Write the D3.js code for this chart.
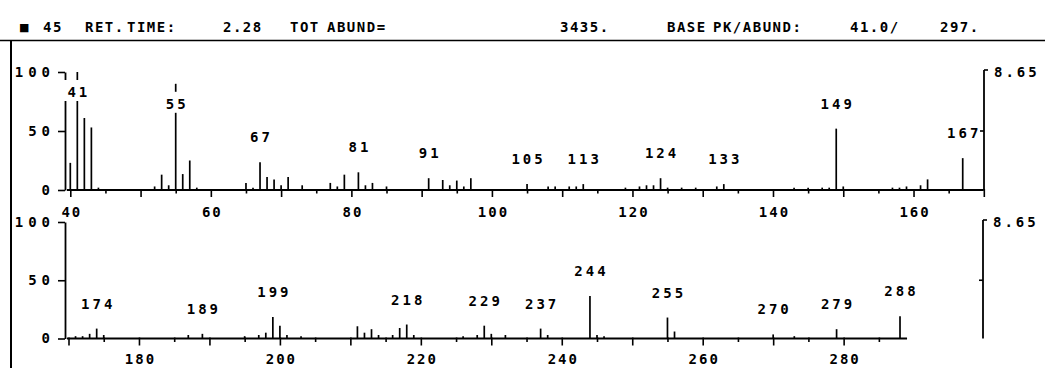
<!DOCTYPE html>
<html><head><meta charset="utf-8">
<script src="https://cdn.jsdelivr.net/npm/d3@7"></script>
<style>
html,body{margin:0;padding:0;background:#fff;}
svg{display:block;}
text{font-family:'DejaVu Sans Mono',monospace;font-size:14px;fill:#000;}
</style></head><body>
<svg id="chart" width="1045" height="368"></svg>
<script>
// ---------------- DATA ----------------
const headerTokens = ["45", "RET.", "TIME:", "2.28", "TOT", "ABUND=", "3435.", "BASE", "PK/ABUND:", "41.0/", "297."];
const scaleLabel = "8.65";
const yTickValues = [0, 50, 100];

// upper panel: m/z 40-170
const topMz    = [40, 41, 42, 43, 44, 52, 53, 54, 55, 56, 57, 58, 65, 66, 67, 68, 69, 70, 71, 73, 77, 78, 79, 81, 82, 83, 85,
                  91, 93, 94, 95, 96, 97, 105, 108, 109, 111, 112, 113, 119, 121, 122, 123, 124, 125, 127, 129, 132, 133,
                  143, 145, 147, 148, 149, 150, 157, 158, 159, 161, 162, 167];
const topAbund = [23, 100, 61, 53, 2, 3, 13, 4, 90, 13.5, 25, 2, 6, 2, 23.5, 11, 9, 4, 11, 4, 6, 3, 13, 15, 4, 6, 3,
                  10, 8.5, 4, 8, 3, 10, 5, 3, 3, 3, 3, 5, 2, 3, 4, 4, 10, 2, 2, 2, 3, 5,
                  2, 2, 2, 2, 52, 3, 2, 2, 3, 4, 9, 27];
const topLabeled = [41, 55, 67, 81, 91, 105, 113, 124, 133, 149, 167];
const topAxisLabels = [40, 60, 80, 100, 120, 140, 160];

// lower panel: m/z 170-290
const botMz    = [171, 172, 173, 174, 175, 187, 189, 195, 197, 198, 199, 200, 201, 203, 211, 212, 213, 214, 216, 217, 218, 219,
                  226, 228, 229, 230, 232, 237, 238, 244, 245, 246, 255, 256, 270, 273, 279, 288];
const botAbund = [2, 2, 4, 8.5, 3, 3, 4, 2, 3, 5, 18.5, 11, 3, 2, 10.5, 5, 8, 3, 3, 9, 12, 3,
                  2, 3, 11, 4, 3, 8.5, 3, 36.5, 3, 2, 18, 6, 3.5, 2, 8, 19];
const botLabeled = [174, 189, 199, 218, 229, 237, 244, 255, 270, 279, 288];
const botAxisLabels = [180, 200, 220, 240, 260, 280];

// ---------------- LAYOUT ----------------
const svg = d3.select("#chart");
const LS = 3;      // letter spacing for peak labels
const HLS = 1.5;   // letter spacing for header
const YLS = 5;     // letter spacing for y tick labels
svg.append("rect").attr("width", 1045).attr("height", 368).attr("fill", "#fff");

// frame
svg.append("line").attr("x1", 0).attr("x2", 1045).attr("y1", 40.5).attr("y2", 40.5)
  .attr("stroke", "#000").attr("stroke-width", 1.6);
svg.append("line").attr("x1", 11).attr("x2", 11).attr("y1", 40).attr("y2", 368)
  .attr("stroke", "#000").attr("stroke-width", 2);

// header
const headerX = [43, 85, 127, 223, 290, 327, 560, 667, 713, 850, 940];
svg.append("text").attr("x", 19).attr("y", 31).style("font-family", "DejaVu Sans").style("font-size", "11px").text("■");
svg.selectAll("text.hdr").data(headerTokens).join("text").attr("class", "hdr")
  .attr("x", (d, i) => headerX[i]).attr("y", 32)
  .style("letter-spacing", HLS + "px").style("font-weight", "bold").text(d => d);

function panel(cfg, mz, ab, labeled, axisLabels) {
  const x = d3.scaleLinear().domain(cfg.domain).range(cfg.xr);
  const y = d3.scaleLinear().domain([0, 100]).range([cfg.y0, cfg.y100]);
  const g = svg.append("g");

  // left axis
  const la = g.append("g").attr("transform", `translate(${cfg.leftX},0)`)
    .call(d3.axisLeft(y).tickValues(yTickValues).tickSize(7).tickSizeOuter(0).tickPadding(8));
  la.select(".domain").attr("stroke", "#000").attr("stroke-width", 1.8);
  la.selectAll(".tick line").attr("stroke", "#000").attr("stroke-width", 1.6);
  la.selectAll(".tick text").attr("dx", YLS).style("letter-spacing", YLS + "px")
    .style("font-weight", "bold").style("font-family", "DejaVu Sans Mono").style("font-size", "14px");

  // x axis ticks + labels
  const ticks = d3.range(cfg.domain[0], cfg.axisEnd + 1, 5);
  const xa = g.append("g").attr("transform", `translate(0,${cfg.y0})`)
    .call(d3.axisBottom(x).tickValues(ticks).tickSize(7).tickSizeOuter(0)
      .tickFormat(d => axisLabels.includes(d) ? d : ""));
  xa.select(".domain").remove();
  xa.selectAll(".tick line").attr("stroke", "#000").attr("stroke-width", 1.6)
    .attr("y1", -1).attr("y2", d => d % 10 === 0 ? 7 : 3.5);
  xa.selectAll(".tick text").attr("y", cfg.labelDy).attr("dy", 0).attr("dx", 1)
    .style("letter-spacing", "2px").style("font-weight", "bold")
    .style("font-family", "DejaVu Sans Mono").style("font-size", "14px");

  // baseline
  g.append("line").attr("x1", cfg.leftX + 2).attr("x2", x(cfg.axisEnd))
    .attr("y1", cfg.y0).attr("y2", cfg.y0).attr("stroke", "#000").attr("stroke-width", 2);

  // right scale axis
  const rx = cfg.rightX;
  g.append("line").attr("x1", rx).attr("x2", rx).attr("y1", y(100) - 2).attr("y2", y(0))
    .attr("stroke", "#000").attr("stroke-width", 1.8);
  g.append("line").attr("x1", rx).attr("x2", rx + 4).attr("y1", y(100) - 2).attr("y2", y(100) - 2)
    .attr("stroke", "#000").attr("stroke-width", 1.6);
  g.append("line").attr("x1", rx - 4).attr("x2", rx).attr("y1", y(50)).attr("y2", y(50))
    .attr("stroke", "#000").attr("stroke-width", 1.6);
  g.append("text").attr("x", rx + 10).attr("y", y(100) + 5)
    .style("letter-spacing", LS + "px").style("font-weight", "bold").text(scaleLabel);

  // peaks
  const data = mz.map((m, i) => ({ m, v: ab[i] }));
  g.selectAll("line.peak").data(data).join("line").attr("class", "peak")
    .attr("x1", d => x(d.m)).attr("x2", d => x(d.m))
    .attr("y1", cfg.y0).attr("y2", d => y(d.v))
    .attr("stroke", "#000").attr("stroke-width", 1.7);

  // peak labels (placed over the line when there is no room above it)
  const lab = data.filter(d => labeled.includes(d.m)).map(d => {
    let base = y(d.v) - 20, over = false;
    if (base - 12 < y(100)) { base = y(d.v) + 25; over = true; }
    return { ...d, base, over };
  });
  g.selectAll("rect.lbg").data(lab.filter(d => d.over)).join("rect").attr("class", "lbg")
    .attr("x", d => x(d.m) - 18).attr("width", 36)
    .attr("y", d => d.base - 17).attr("height", 21).attr("fill", "#fff");
  g.selectAll("text.pl").data(lab).join("text").attr("class", "pl")
    .attr("x", d => x(d.m)).attr("dx", LS / 2).attr("y", d => d.base)
    .attr("text-anchor", "middle").style("letter-spacing", LS + "px").style("font-weight", "bold")
    .text(d => d.m);
}

panel({ domain: [40, 170], xr: [70.3, 983.8], axisEnd: 170, y0: 190, y100: 72, leftX: 65, rightX: 984, labelDy: 27 },
  topMz, topAbund, topLabeled, topAxisLabels);
panel({ domain: [170, 290], xr: [68.5, 914.1], axisEnd: 289, y0: 338.5, y100: 222, leftX: 65, rightX: 983, labelDy: 25 },
  botMz, botAbund, botLabeled, botAxisLabels);
</script>
</body></html>
